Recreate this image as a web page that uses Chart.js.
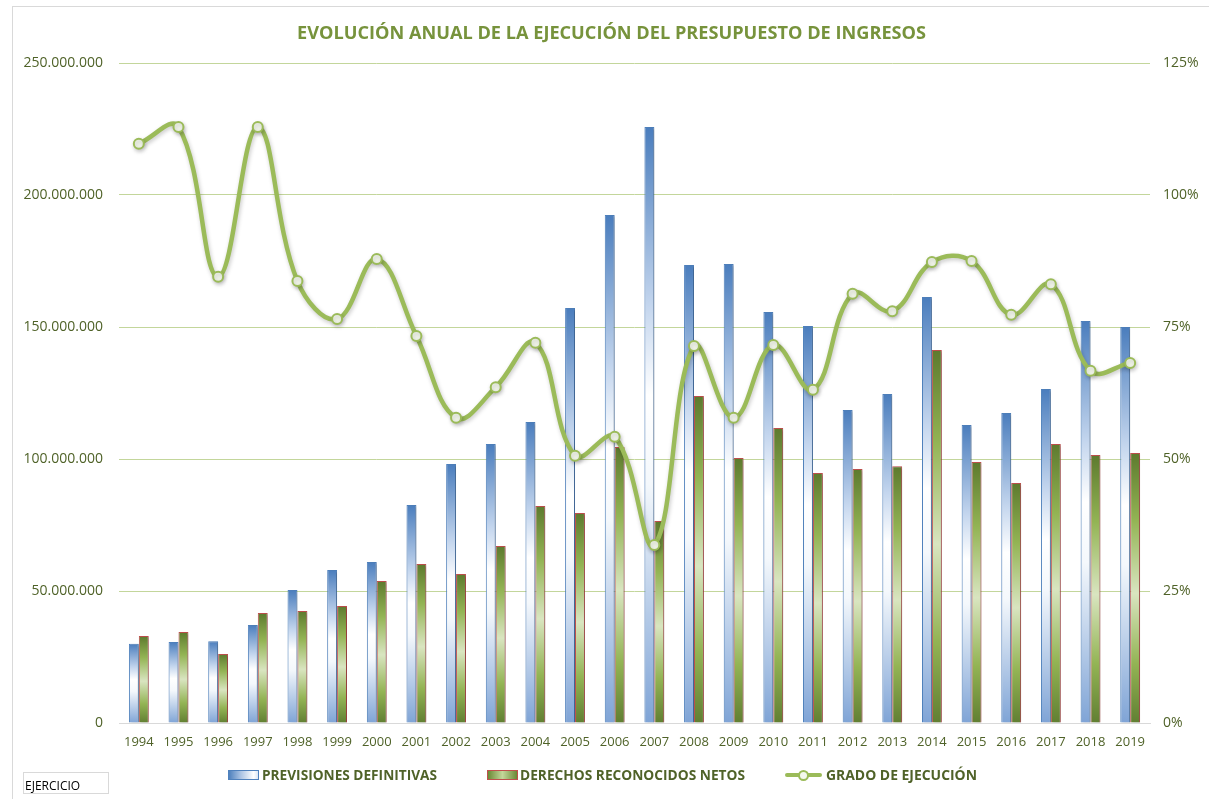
<!DOCTYPE html>
<html>
<head>
<meta charset="utf-8">
<script src="https://cdn.jsdelivr.net/npm/chart.js@4.4.1/dist/chart.umd.min.js"></script>
<style>
  html, body { margin:0; padding:0; background:#fff; }
  body { width:1209px; height:799px; position:relative; overflow:hidden; font-family:"Open Sans", sans-serif; }
  #frame { position:absolute; left:12px; top:6px; width:1300px; height:900px; border-left:1px solid #d9d9d9; border-top:1px solid #d9d9d9; }
  #wrap { position:absolute; left:0; top:1px; width:1209px; height:799px; }
  .fit { position:absolute; white-space:nowrap; transform-origin:0 50%; display:inline-block; }
  #title { left:297px; top:20px; font-weight:700; font-size:18px; line-height:24px; color:#77933c; }
  .lg { top:765px; font-weight:700; font-size:14px; line-height:20px; color:#4f6228; }
  .box { position:absolute; height:10px; top:770px; box-sizing:border-box; }
  #b1 { left:228px; width:31px; border:1px solid #4f81bd; background:linear-gradient(to right, #4f81bd 0%, #a9c2e3 40%, #ffffff 85%, #dbe6f4 100%); }
  #b2 { left:487px; width:31px; border:1px solid #c0504d; background:linear-gradient(to right, #6a8a35 0%, #c3d79a 50%, #6a8a35 100%); }
  #l3 { position:absolute; left:785px; top:773px; width:37px; height:4px; background:#9bbb59; border-radius:2px; }
  #m3 { position:absolute; left:798px; top:770px; width:7px; height:7px; border:2px solid #9bbb59; border-radius:50%; background:#f4f8ec; }
  #ej { position:absolute; left:23px; top:772px; width:86px; height:22px; border:1px solid #d9d9d9; box-sizing:border-box; font-size:12px; line-height:20px; color:#000; padding-left:1px; padding-top:3px; }
</style>
</head>
<body>
<div id="frame"></div>
<div id="wrap"><canvas id="c"></canvas></div>
<div id="title" class="fit" data-w="629">EVOLUCIÓN ANUAL DE LA EJECUCIÓN DEL PRESUPUESTO DE INGRESOS</div>
<div class="box" id="b1"></div>
<div class="fit lg" style="left:262px" data-w="175">PREVISIONES DEFINITIVAS</div>
<div class="box" id="b2"></div>
<div class="fit lg" style="left:520px" data-w="225">DERECHOS RECONOCIDOS NETOS</div>
<div id="l3"></div><div id="m3"></div>
<div class="fit lg" style="left:826px" data-w="151">GRADO DE EJECUCIÓN</div>
<div id="ej">EJERCICIO</div>
<script>
const years = ['1994','1995','1996','1997','1998','1999','2000','2001','2002','2003','2004','2005','2006','2007','2008','2009','2010','2011','2012','2013','2014','2015','2016','2017','2018','2019'];
const previsiones = [30.0e6, 30.7e6, 31.0e6, 37.1e6, 50.4e6, 58.0e6, 61.0e6, 82.6e6, 98.1e6, 105.7e6, 114.0e6, 157.2e6, 192.4e6, 225.8e6, 173.5e6, 173.9e6, 155.7e6, 150.4e6, 118.6e6, 124.6e6, 161.4e6, 112.9e6, 117.4e6, 126.5e6, 152.3e6, 150.0e6];
const derechos = [33.0e6, 34.5e6, 26.1e6, 41.7e6, 42.4e6, 44.3e6, 53.8e6, 60.2e6, 56.4e6, 67.0e6, 82.2e6, 79.5e6, 104.5e6, 76.5e6, 123.9e6, 100.4e6, 111.7e6, 94.7e6, 96.2e6, 97.3e6, 141.3e6, 98.9e6, 90.9e6, 105.7e6, 101.5e6, 102.3e6];
const grado = [109.7, 112.9, 84.5, 112.9, 83.7, 76.5, 87.9, 73.3, 57.8, 63.6, 72.0, 50.6, 54.2, 33.7, 71.4, 57.8, 71.6, 63.1, 81.3, 78.0, 87.3, 87.5, 77.3, 83.1, 66.7, 68.2];
const leftTicks = [0, 50e6, 100e6, 150e6, 200e6, 250e6];
const rightTicks = [0, 25, 50, 75, 100, 125];

function fmtDots(v){ return String(Math.round(v)).replace(/\B(?=(\d{3})+(?!\d))/g, '.'); }

function barGrad(stops, fallback){
  return (c) => {
    const chart = c.chart;
    if (!chart.chartArea || c.type !== 'data') return fallback;
    const ys = chart.scales.y;
    const top = ys.getPixelForValue(c.raw);
    const base = ys.getPixelForValue(0);
    if (!isFinite(top) || Math.abs(base-top) < 1) return fallback;
    const g = chart.ctx.createLinearGradient(0, top, 0, base);
    stops.forEach(s => g.addColorStop(s[0], s[1]));
    return g;
  };
}

const shadowPlugin = {
  id:'shadow',
  beforeDatasetDraw(chart, args){
    const ctx = chart.ctx; ctx.save();
    if (args.meta.type === 'bar') { ctx.shadowColor='rgba(0,0,0,0.25)'; ctx.shadowBlur=3; ctx.shadowOffsetX=2; ctx.shadowOffsetY=1; }
    else { ctx.shadowColor='rgba(0,0,0,0.22)'; ctx.shadowBlur=4; ctx.shadowOffsetX=1; ctx.shadowOffsetY=2; }
  },
  afterDatasetDraw(chart){ chart.ctx.restore(); }
};

new Chart(document.getElementById('c'), {
  data: {
    labels: years,
    datasets: [
      { type:'line', label:'GRADO DE EJECUCIÓN', data: grado, yAxisID:'y1', order:0,
        borderColor:'#9bbb59', borderWidth:4.5, tension:0.4, fill:false,
        pointRadius:5, pointBorderWidth:2, pointBorderColor:'#9bbb59', pointBackgroundColor:'#f4f8ec' },
      { type:'bar', label:'PREVISIONES DEFINITIVAS', data: previsiones, yAxisID:'y', order:1,
        backgroundColor: barGrad([[0,'#4a7dbd'],[0.3,'#c4d6ee'],[0.45,'#ffffff'],[0.6,'#f4f8fc'],[1,'#7fa4d6']], '#4f81bd'),
        borderColor:'#4f81bd', borderWidth:1, categoryPercentage:0.5, barPercentage:1 },
      { type:'bar', label:'DERECHOS RECONOCIDOS NETOS', data: derechos, yAxisID:'y', order:1,
        backgroundColor: barGrad([[0,'#5d7a2e'],[0.25,'#93b454'],[0.52,'#d9e5c0'],[0.78,'#93b454'],[1,'#617f32']], '#9bbb59'),
        borderColor:'#c0504d', borderWidth:1, categoryPercentage:0.5, barPercentage:1 }
    ]
  },
  options: {
    responsive:true, maintainAspectRatio:false, animation:false,
    layout:{ padding:{ top:62, bottom:0, left:0, right:0 } },
    plugins:{ legend:{display:false}, title:{display:false}, tooltip:{enabled:false} },
    scales:{
      x:{
        grid:{ display:false, drawTicks:false },
        border:{ display:true, color:'#d9d9d9', width:1 },
        ticks:{ color:'#4f6228', font:{ family:'Open Sans', size:13 }, padding:11, maxRotation:0, autoSkip:false },
        afterFit(s){ s.height = 77; }
      },
      y:{
        position:'left', min:0, max:250e6,
        afterBuildTicks(s){ s.ticks = leftTicks.map(v => ({value:v})); },
        grid:{ color:'#c3d69b', drawTicks:false },
        border:{ display:false },
        ticks:{ color:'#4f6228', font:{ family:'Open Sans', size:14 }, padding:16, callback: v => fmtDots(v) },
        afterFit(s){ s.width = 119; }
      },
      y1:{
        position:'right', min:0, max:125,
        afterBuildTicks(s){ s.ticks = rightTicks.map(v => ({value:v})); },
        grid:{ display:false, drawTicks:false },
        border:{ display:false },
        ticks:{ color:'#4f6228', font:{ family:'Open Sans', size:14 }, padding:13, callback: v => v + '%' },
        afterFit(s){ s.width = 59; }
      }
    }
  },
  plugins:[shadowPlugin]
});

document.querySelectorAll('.fit').forEach(el => {
  const target = parseFloat(el.dataset.w);
  const w = el.getBoundingClientRect().width;
  if (w > 0) el.style.transform = 'scaleX(' + (target / w) + ')';
});
</script>
</body>
</html>
